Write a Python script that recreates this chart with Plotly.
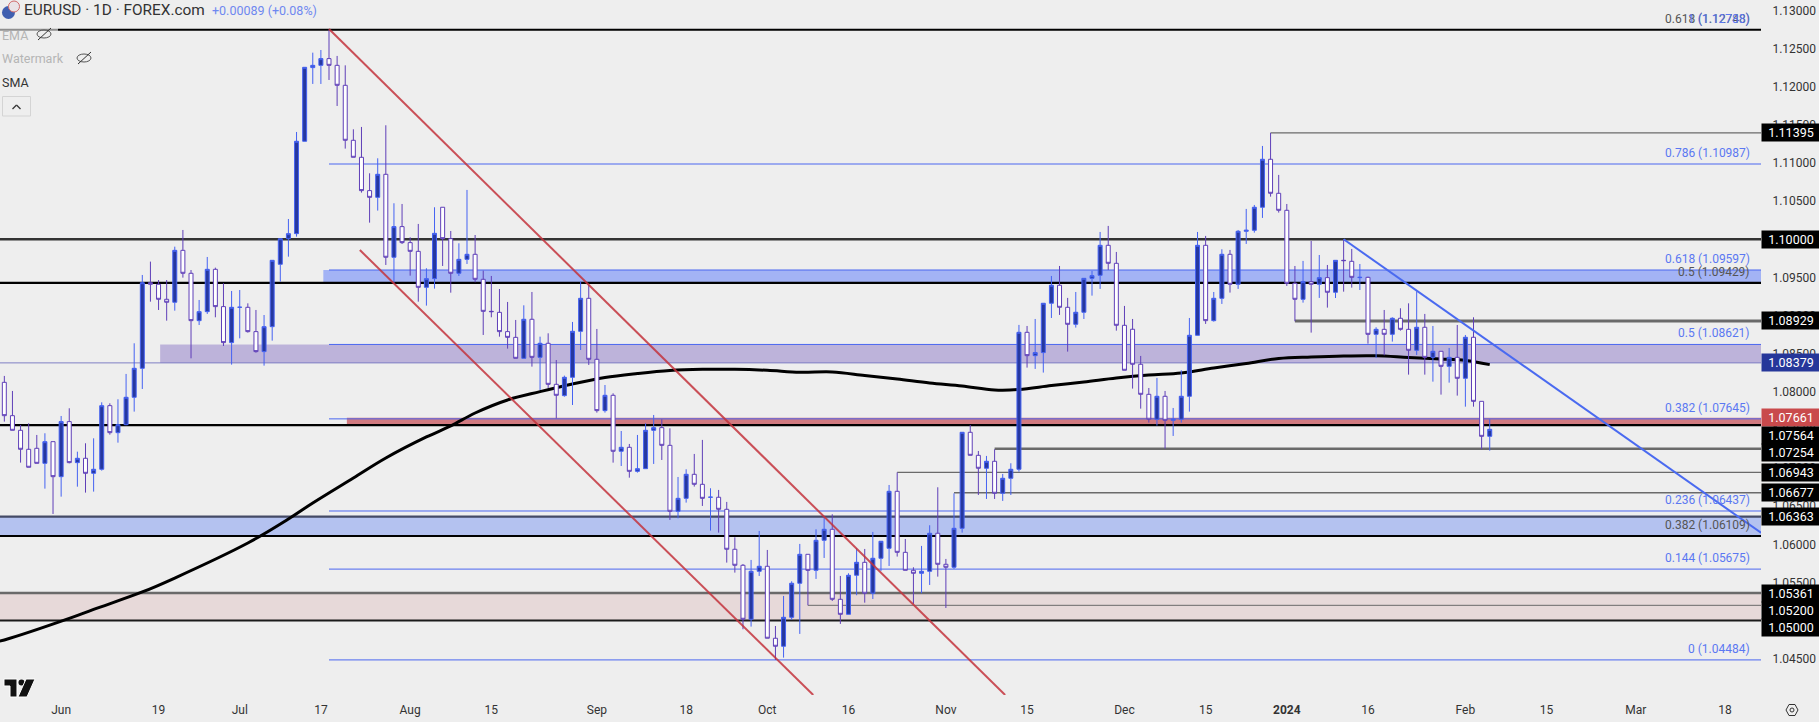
import plotly.graph_objects as go

opens = [
1.08124,1.07687,1.07495,1.07246,1.07259,1.07062,1.07346,1.06887,1.07609,1.07071,
1.07128,1.06931,1.06984,1.07818,1.07464,1.07569,1.07928,1.08308,1.09431,1.09410,
1.09213,1.09174,1.09855,1.09554,1.08933,1.09051,1.09606,1.09117,1.08645,1.09108,
1.09108,1.08789,1.08527,1.08854,1.09672,1.10008,1.10074,1.11285,1.12251,1.12281,
1.12369,1.12281,1.12019,1.11298,1.11075,1.10638,1.10550,1.10852,1.09764,1.10166,
1.09956,1.09842,1.09370,1.09484,1.10420,1.10008,1.09554,1.09737,1.09803,1.09475,
1.09055,1.09042,1.08789,1.08714,1.08439,1.08951,1.08452,1.08636,1.08098,1.07950,
1.08190,1.08793,1.09226,1.08426,1.07753,1.07954,1.07220,1.07272,1.06957,1.06992,
1.07495,1.07530,1.07298,1.06433,1.06603,1.06918,1.06787,1.06617,1.06617,1.06459,
1.05935,1.05725,1.05017,1.05646,1.05712,1.04768,1.04663,1.05043,1.05489,1.05869,
1.05659,1.06053,1.06197,1.05279,1.05082,1.05594,1.05764,1.05358,1.05817,1.05948,
1.06695,1.05895,1.05659,1.05620,1.05646,1.06145,1.05738,1.05699,1.06210,1.07469,
1.07167,1.06997,1.07089,1.06669,1.06866,1.06984,1.08780,1.08474,1.08514,1.09161,
1.09397,1.09108,1.08885,1.09043,1.09488,1.09528,1.09921,1.09685,1.08872,1.08820,
1.08361,1.07967,1.07640,1.07941,1.07626,1.07640,1.07941,1.08741,1.09921,1.08933,
1.09226,1.09803,1.09410,1.10105,1.10118,1.10420,1.11049,1.10603,1.10380,1.09423,
1.09213,1.09445,1.09410,1.09497,1.09305,1.09724,1.09711,1.09497,1.09501,1.08754,
1.08819,1.08754,1.08964,1.08819,1.08544,1.08846,1.08452,1.08531,1.08334,1.08452,
1.08177,1.08715,1.07875,1.07416]

highs = [
1.08208,1.08011,1.07565,1.07587,1.07434,1.07456,1.07346,1.07683,1.07784,1.07215,
1.07325,1.07390,1.07862,1.07849,1.07902,1.08234,1.08636,1.09532,1.09707,1.09466,
1.09466,1.09903,1.10122,1.09597,1.09204,1.09768,1.09628,1.09423,1.09322,1.09335,
1.09160,1.09073,1.09007,1.09724,1.10008,1.10266,1.11407,1.12255,1.12447,1.12482,
1.12748,1.12404,1.12281,1.11442,1.11473,1.10865,1.11062,1.11495,1.10472,1.10463,
1.10026,1.10201,1.09620,1.10420,1.10420,1.10109,1.09947,1.10647,1.10056,1.09589,
1.09519,1.09348,1.09178,1.08942,1.09134,1.09309,1.08723,1.08767,1.08417,1.08212,
1.08916,1.09445,1.09401,1.08824,1.08089,1.07980,1.07486,1.07316,1.07434,1.07587,
1.07696,1.07639,1.07521,1.06883,1.06984,1.07185,1.07369,1.06735,1.06713,1.06556,
1.06092,1.05742,1.05795,1.06175,1.05926,1.04929,1.05323,1.05515,1.06005,1.05869,
1.06197,1.06354,1.06394,1.05585,1.05620,1.05948,1.05939,1.06162,1.06040,1.06778,
1.06943,1.06070,1.05699,1.05979,1.06250,1.06748,1.05808,1.06669,1.07469,1.07565,
1.07224,1.07159,1.07246,1.06923,1.07063,1.08877,1.08863,1.08955,1.09161,1.09519,
1.09650,1.09231,1.09309,1.09488,1.09585,1.10096,1.10175,1.09834,1.09126,1.08955,
1.08470,1.08050,1.08182,1.08011,1.07788,1.08282,1.08968,1.10096,1.10044,1.09309,
1.09869,1.09860,1.10122,1.10398,1.10450,1.11224,1.11395,1.10844,1.10463,1.09650,
1.09716,1.09978,1.09794,1.09663,1.09724,1.10000,1.09873,1.09676,1.09510,1.08846,
1.09073,1.08977,1.09095,1.09160,1.09318,1.09021,1.08863,1.08531,1.08575,1.08876,
1.08745,1.08977,1.07875,1.07639]

lows = [
1.07609,1.07495,1.07071,1.07010,1.07062,1.06730,1.06398,1.06625,1.07062,1.06756,
1.06678,1.06691,1.06966,1.07438,1.07333,1.07561,1.07740,1.08037,1.09182,1.09073,
1.08933,1.09064,1.09497,1.08439,1.08876,1.09021,1.08977,1.08601,1.08356,1.08701,
1.08776,1.08513,1.08343,1.08671,1.09445,1.09772,1.10035,1.11285,1.12037,1.12037,
1.12089,1.11748,1.11189,1.11075,1.10612,1.10218,1.10376,1.09663,1.09423,1.09938,
1.09523,1.09182,1.09130,1.09353,1.09650,1.09300,1.09519,1.09676,1.09436,1.08745,
1.08977,1.08723,1.08566,1.08439,1.08439,1.08330,1.08024,1.08050,1.07652,1.07936,
1.07827,1.08548,1.08352,1.07727,1.07727,1.07071,1.07027,1.06874,1.06940,1.06992,
1.07054,1.07106,1.06320,1.06341,1.06547,1.06757,1.06503,1.06180,1.06153,1.05760,
1.05629,1.04886,1.04921,1.05585,1.04768,1.04484,1.04514,1.05008,1.04825,1.05200,
1.05546,1.05821,1.05257,1.04956,1.05082,1.05332,1.05235,1.05283,1.05651,1.05716,
1.05839,1.05659,1.05218,1.05358,1.05467,1.05576,1.05165,1.05677,1.06153,1.07167,
1.06647,1.06595,1.06595,1.06569,1.06647,1.06953,1.08317,1.08300,1.08252,1.08968,
1.09008,1.08527,1.08842,1.08955,1.09261,1.09349,1.09598,1.08802,1.08282,1.08042,
1.07779,1.07596,1.07556,1.07254,1.07421,1.07596,1.07740,1.08741,1.08890,1.08920,
1.09152,1.09301,1.09349,1.09939,1.10087,1.10280,1.10559,1.10350,1.09388,1.08925,
1.09169,1.08776,1.09231,1.09104,1.09230,1.09313,1.09366,1.09335,1.08631,1.08444,
1.08479,1.08658,1.08802,1.08225,1.08483,1.08225,1.08133,1.07963,1.08120,1.07950,
1.07805,1.07805,1.07246,1.07228]

closes = [
1.07687,1.07495,1.07246,1.07010,1.07062,1.07346,1.06887,1.07609,1.07071,1.07128,
1.06931,1.06984,1.07818,1.07464,1.07569,1.07928,1.08308,1.09431,1.09410,1.09213,
1.09174,1.09855,1.09554,1.08933,1.09051,1.09606,1.09117,1.08645,1.09108,1.09109,
1.08789,1.08527,1.08854,1.09724,1.10008,1.10074,1.11285,1.12255,1.12281,1.12369,
1.12281,1.12019,1.11298,1.11075,1.10638,1.10550,1.10852,1.09764,1.10166,1.09956,
1.09842,1.09370,1.09484,1.10078,1.10008,1.09554,1.09737,1.09803,1.09475,1.09055,
1.09051,1.08789,1.08714,1.08439,1.08951,1.08452,1.08636,1.08098,1.07954,1.08190,
1.08793,1.09226,1.08426,1.07753,1.07954,1.07220,1.07272,1.06957,1.06992,1.07495,
1.07530,1.07298,1.06433,1.06603,1.06918,1.06787,1.06603,1.06618,1.06459,1.05935,
1.05725,1.05017,1.05646,1.05712,1.04768,1.04663,1.05043,1.05489,1.05869,1.05659,
1.06053,1.06197,1.05279,1.05082,1.05594,1.05764,1.05358,1.05817,1.06040,1.06695,
1.05895,1.05659,1.05620,1.05646,1.06145,1.05738,1.05699,1.06210,1.07469,1.07167,
1.06997,1.07089,1.06669,1.06866,1.06984,1.08780,1.08474,1.08514,1.09161,1.09397,
1.09108,1.08885,1.09043,1.09488,1.09523,1.09921,1.09685,1.08872,1.08282,1.08361,
1.07967,1.07640,1.07941,1.07626,1.07640,1.07941,1.08741,1.09921,1.08933,1.09226,
1.09803,1.09410,1.10105,1.10118,1.10420,1.11049,1.10603,1.10380,1.09423,1.09213,
1.09445,1.09410,1.09497,1.09305,1.09724,1.09720,1.09501,1.09501,1.08754,1.08819,
1.08754,1.08964,1.08819,1.08544,1.08846,1.08452,1.08531,1.08334,1.08452,1.08177,
1.08715,1.07875,1.07416,1.07508]

sma_bars = [-1,0,8,11,17,21,30,35,38,43,47,52,55,58,62,66,70,74,78,82,86,90,94,98,102,106,110,114,118,
            122,125,129,133,137,141,145,149,153,157,161,165,169,173,177,180,183]
sma_vals = [1.04722,1.04746,1.05028,1.05146,1.05375,1.05558,1.06017,1.06332,1.06542,1.06870,1.07132,1.07408,
            1.07552,1.07722,1.07893,1.08002,1.08103,1.08188,1.08240,1.08280,1.08295,1.08295,1.08282,
            1.08256,1.08260,1.08214,1.08168,1.08116,1.08076,1.08024,1.08030,1.08083,1.08129,1.08181,
            1.08221,1.08247,1.08312,1.08371,1.08437,1.08457,1.08470,1.08472,1.08450,1.08430,1.08411,1.08356]

tick_bars = [7,19,29,39,50,60,73,84,94,104,116,126,138,148,158,168,180,190,201,212]
tick_text = ["Jun","19","Jul","17","Aug","15","Sep","18","Oct","16","Nov","15","Dec","15","<b>2024</b>","16","Feb","15","Mar","18"]
price_ticks = [1.045,1.05,1.055,1.06,1.065,1.07,1.075,1.08,1.085,1.09,1.095,1.10,1.105,1.11,1.115,1.12,1.125,1.13]

# channel and trend lines: bar positions and prices at both ends
red_upper_bars, red_upper_prices = [40, 123.3], [1.12757, 1.04024]
red_lower_bars, red_lower_prices = [43.8, 99.66], [1.09859, 1.04024]
blue_trend_bars, blue_trend_prices = [165, 216.42], [1.10000, 1.06152]

XMIN, XMAX = -0.533, 216.42
YMIN, YMAX = 1.04024, 1.131377
W, H, PW, PH = 1819, 722, 1761, 695

BG = "#eeeeee"
FIB = "#4a66f0"
GREY = "#6a6a6a"

# (price_low, price_high, start_bar, colour)
bands = [
    (1.09429, 1.09597, 39.3, "#a3b3f5"),
    (1.08379, 1.08621, 19.2, "#bdb3da"),
    (1.07564, 1.07661, 42.2, "#d17a80"),
    (1.06109, 1.06363, XMIN, "#b4c2f0"),
    (1.05000, 1.05361, XMIN, "#e7d9d9"),
]
# (price, start_bar, colour, width)
levels = [
    (1.12751, 40, FIB, 1), (1.12748, XMIN, "#000000", 2), (1.11395, 156, GREY, 1.2),
    (1.10987, 40, FIB, 1), (1.10000, XMIN, "#333333", 2.6), (1.09597, 40, FIB, 1),
    (1.09429, XMIN, "#000000", 2.2), (1.08929, 159, GREY, 3), (1.08621, 40, FIB, 1),
    (1.08379, XMIN, "#7f7fc4", 1), (1.07645, 40, FIB, 1), (1.07564, XMIN, "#000000", 2.2),
    (1.07254, 122, GREY, 2.6), (1.06943, 110, GREY, 1.4), (1.06677, 117, GREY, 1.4),
    (1.06437, 40, FIB, 1), (1.06363, XMIN, "#444a66", 2.4), (1.06109, XMIN, "#000000", 2.2),
    (1.05675, 40, FIB, 1), (1.05361, XMIN, GREY, 2.6), (1.05200, 99, GREY, 1),
    (1.05000, XMIN, "#1a1a1a", 2), (1.04484, 40, FIB, 1),
]
# (text, price, colour)
fib_labels = [
    ("0.618 (1.12748)", 1.12748, "#555555"), ("1 (1.12788)", 1.12748, "#5b78f2"),
    ("0.786 (1.10987)", 1.10987, "#5b78f2"), ("0.618 (1.09597)", 1.09597, "#5b78f2"),
    ("0.5 (1.09429)", 1.09429, "#555555"), ("0.5 (1.08621)", 1.08621, "#5b78f2"),
    ("0.382 (1.07645)", 1.07645, "#5b78f2"), ("0.236 (1.06437)", 1.06437, "#5b78f2"),
    ("0.382 (1.06109)", 1.06109, "#555555"), ("0.144 (1.05675)", 1.05675, "#5b78f2"),
    ("0 (1.04484)", 1.04484, "#5b78f2"),
]
# (text, position on scale, background)
badges = [
    ("1.11395", 1.11395, "#000000"), ("1.10000", 1.10000, "#000000"), ("1.08929", 1.08929, "#000000"),
    ("1.08379", 1.08379, "#26379a"), ("1.07661", 1.07661, "#c94a4c"), ("1.07564", 1.07424, "#000000"),
    ("1.07254", 1.07201, "#000000"), ("1.06943", 1.06943, "#000000"), ("1.06677", 1.06677, "#000000"),
    ("1.06363", 1.06363, "#000000"), ("1.05361", 1.05361, "#000000"), ("1.05200", 1.05129, "#000000"),
    ("1.05000", 1.04907, "#000000"),
]

def px(x):
    return x / PW
def py(y):
    return 1 - y / PH

fig = go.Figure()
fig.add_trace(go.Scatter(x=sma_bars, y=sma_vals, mode="lines", yaxis="y",
                         line=dict(color="#000000", width=3, shape="spline"), hoverinfo="skip"))
fig.add_trace(go.Candlestick(x=list(range(len(opens))), open=opens, high=highs, low=lows, close=closes,
                             yaxis="y2", whiskerwidth=0,
                             increasing=dict(line=dict(color="#4562f2", width=1), fillcolor="#26389f"),
                             decreasing=dict(line=dict(color="#5f3fb8", width=1), fillcolor="#ffffff")))
for bx, by, col in [(red_upper_bars, red_upper_prices, "rgba(195,50,60,0.85)"),
                    (red_lower_bars, red_lower_prices, "rgba(195,50,60,0.85)"),
                    (blue_trend_bars, blue_trend_prices, "#4a6af0")]:
    fig.add_trace(go.Scatter(x=bx, y=by, mode="lines", yaxis="y3", line=dict(color=col, width=2), hoverinfo="skip"))

shapes = []
for lo, hi, start, col in bands:
    shapes.append(dict(type="rect", xref="x", yref="y", x0=start, x1=XMAX, y0=lo, y1=hi,
                       fillcolor=col, line=dict(width=0), layer="below"))
for price, start, col, wid in levels:
    shapes.append(dict(type="line", xref="x", yref="y", x0=start, x1=XMAX, y0=price, y1=price,
                       line=dict(color=col, width=wid), layer="below"))

def paper_rect(x0, y0, x1, y1, **kw):
    return dict(type="rect", xref="paper", yref="paper", x0=px(x0), x1=px(x1), y0=py(y1), y1=py(y0), **kw)
def paper_path(points, **kw):
    d = "M " + " L ".join(f"{px(a):.5f},{py(b):.5f}" for a, b in points) + " Z"
    return dict(type="path", xref="paper", yref="paper", path=d, **kw)
def paper_line(x0, y0, x1, y1, col, w):
    return dict(type="line", xref="paper", yref="paper", x0=px(x0), x1=px(x1), y0=py(y0), y1=py(y1),
                line=dict(color=col, width=w))
def paper_circle(cx, cy, r, **kw):
    return dict(type="circle", xref="paper", yref="paper", x0=px(cx-r), x1=px(cx+r), y0=py(cy+r), y1=py(cy-r), **kw)

# header symbol
shapes.append(paper_circle(8.5, 12.5, 6.5, fillcolor="#3f5fb0", line=dict(width=0)))
shapes.append(paper_circle(14, 6.5, 5.5, fillcolor="#e9e3e6", line=dict(color="#d06a6a", width=1)))
# fade of the top line behind the legend
shapes.append(paper_rect(0, 24, 58, 36, fillcolor="rgba(238,238,238,0.6)", line=dict(width=0)))
# hidden-indicator eye icons
for cx, cy in [(44, 34), (84, 58)]:
    shapes.append(dict(type="circle", xref="paper", yref="paper", x0=px(cx-7), x1=px(cx+7), y0=py(cy+4), y1=py(cy-4),
                       line=dict(color="#555555", width=1)))
    shapes.append(paper_line(cx-6, cy+6, cx+7, cy-6, "#333333", 1))
# collapse button
shapes.append(paper_rect(2.5, 96.5, 30.5, 116, fillcolor="rgba(0,0,0,0)", line=dict(color="#d4d4d4", width=1)))
shapes.append(paper_line(12.5, 109, 16.5, 105, "#333333", 1.3))
shapes.append(paper_line(16.5, 105, 20.5, 109, "#333333", 1.3))
# chart-provider logo
shapes.append(paper_path([(4, 679), (17, 679), (17, 697), (10, 697), (10, 686), (4, 686)], fillcolor="#111111", line=dict(color="#ffffff", width=1)))
shapes.append(paper_circle(21.5, 682.5, 3, fillcolor="#111111", line=dict(width=0)))
shapes.append(paper_path([(26, 679), (35, 679), (27, 697), (18, 697)], fillcolor="#111111", line=dict(color="#ffffff", width=1)))
# settings icon
shapes.append(paper_path([(1786, 710), (1789, 704.5), (1795, 704.5), (1798, 710), (1795, 715.5), (1789, 715.5)],
                         fillcolor="rgba(0,0,0,0)", line=dict(color="#333333", width=1)))
shapes.append(paper_circle(1792, 710, 2, fillcolor="rgba(0,0,0,0)", line=dict(color="#333333", width=1)))

ann = []
FONT = "Roboto"
for text, price, col in fib_labels:
    ann.append(dict(text=text, xref="paper", x=px(1752), xanchor="right", yref="y", y=price, yanchor="middle",
                    yshift=11, showarrow=False, font=dict(family=FONT, size=12, color=col)))
for text, pos, col in badges:
    ann.append(dict(text=text, xref="paper", x=1, xanchor="left", yref="y", y=pos, yanchor="middle", showarrow=False,
                    font=dict(family=FONT, size=12.5, color="#ffffff"), bgcolor=col, width=56, height=15, align="center",
                    borderpad=1))
def head(text, x, y, size, col):
    ann.append(dict(text=text, xref="paper", x=px(x), xanchor="left", yref="paper", y=py(y), yanchor="middle",
                    showarrow=False, font=dict(family=FONT, size=size, color=col), borderpad=0))
head("EURUSD · 1D · FOREX.com", 23, 10.5, 15.4, "#333333")
head("+0.00089 (+0.08%)", 211, 10.5, 12.5, "#6f88f0")
head("EMA", 1, 35, 12.5, "#b5b5b5")
head("Watermark", 1, 58.5, 12.5, "#b5b5b5")
head("SMA", 1, 82.5, 12.5, "#333333")

fig.update_layout(
    width=W, height=H, margin=dict(l=0, r=W-PW, t=0, b=H-PH, pad=0),
    paper_bgcolor=BG, plot_bgcolor=BG, showlegend=False, shapes=shapes, annotations=ann,
    font=dict(family=FONT, size=12, color="#333333"),
    xaxis=dict(range=[XMIN, XMAX], tickvals=tick_bars, ticktext=tick_text, showgrid=False, zeroline=False,
               showline=False, ticks="outside", ticklen=4, tickcolor="rgba(0,0,0,0)", rangeslider=dict(visible=False),
               tickfont=dict(family=FONT, size=12, color="#333333")),
    yaxis=dict(range=[YMIN, YMAX], side="right", tickvals=price_ticks, tickformat=".5f", showgrid=False, zeroline=False,
               showline=False, ticks="outside", ticklen=8, tickcolor="rgba(0,0,0,0)",
               tickfont=dict(family=FONT, size=12, color="#333333")),
    yaxis2=dict(range=[YMIN, YMAX], overlaying="y", side="right", visible=False),
    yaxis3=dict(range=[YMIN, YMAX], overlaying="y", side="right", visible=False),
)
fig.write_html("out.html", config=dict(displayModeBar=False),
               post_script="document.body.style.margin='0';document.body.style.background='#eeeeee';")
